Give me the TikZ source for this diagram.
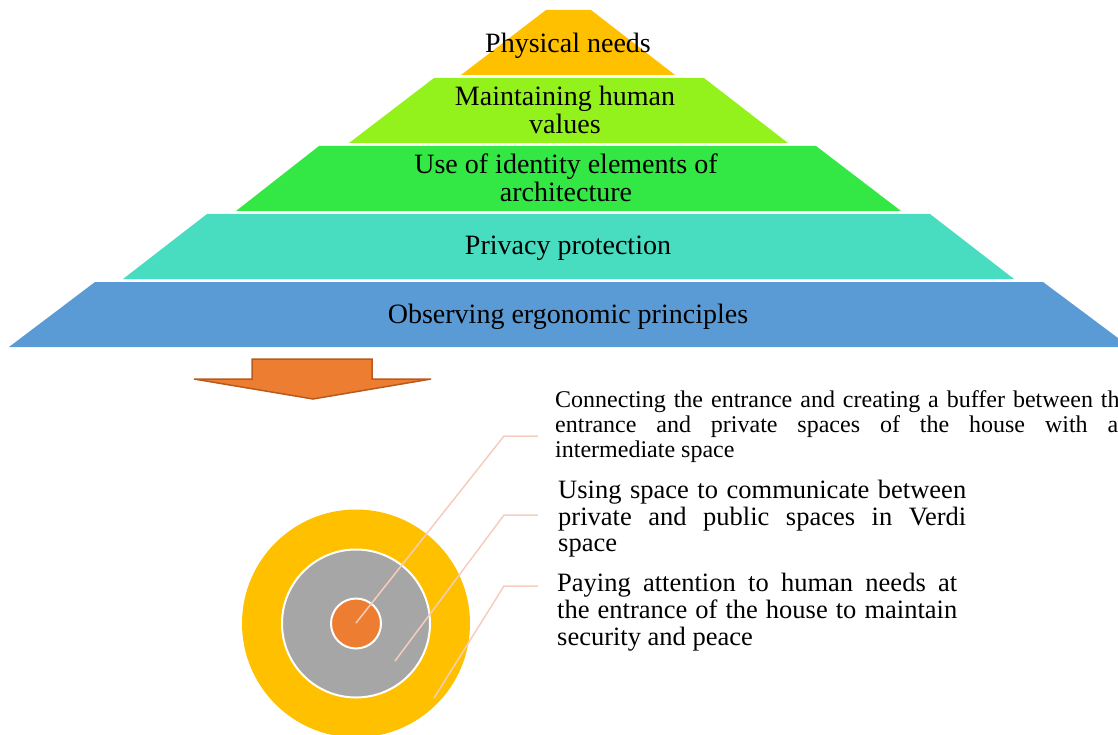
\documentclass[tikz,border=0pt]{standalone}
\usepackage{fontspec}
\setmainfont{Liberation Serif}
\definecolor{lvlone}{HTML}{FFC000}
\definecolor{lvltwo}{HTML}{94F21C}
\definecolor{lvlthree}{HTML}{33E845}
\definecolor{lvlfour}{HTML}{48DDC0}
\definecolor{lvlfive}{HTML}{5B9BD5}
\definecolor{arrorange}{HTML}{ED7D31}
\definecolor{arrbrown}{HTML}{B85A1E}
\definecolor{ringgrey}{HTML}{A6A6A6}
\definecolor{leadpink}{HTML}{F6CDBD}
\hyphenpenalty=10000
\tolerance=10000
\begin{document}
\begin{tikzpicture}[x=1pt, y=-1pt,
    lbl/.style={inner sep=0pt, anchor=north, align=center, font=\fontsize{28}{28}\selectfont},
    note/.style={inner sep=0pt, anchor=north west, align=justify},
    leader/.style={draw=leadpink, line width=1.5pt}]
    \useasboundingbox (0,0) rectangle (1118,735);
    % pyramid
    \fill[lvlone]   (546,10)--(591,10)--(675,75)--(461,75)--cycle;
    \fill[lvltwo]   (434,78)--(704,78)--(788,143)--(349,143)--cycle;
    \fill[lvlthree] (319,146)--(816,146)--(901,211)--(236,211)--cycle;
    \fill[lvlfour]  (207,214)--(930,214)--(1014,279)--(123,279)--cycle;
    \fill[lvlfive]  (95,282)--(1043,282)--(1130,347)--(9,347)--cycle;
    \node[lbl] (needs) at (568,32.5) {Physical needs};
    \node[lbl] (values) at (565,86) {Maintaining human\\values};
    \node[lbl] (identity) at (566,153.5) {Use of identity elements of\\architecture};
    \node[lbl] (privacy) at (568,236) {Privacy protection};
    \node[lbl] (ergo) at (568,303.5) {Observing ergonomic principles};
    % arrow
    \filldraw[fill=arrorange, draw=arrbrown, line width=1.5pt]
        (252,359)--(372,359)--(372,379)--(431,379)--(313,399)--(194,379)--(252,379)--cycle;
    % rings
    \coordinate (c) at (356,623.5);
    \fill[lvlone] (c) circle (114);
    \filldraw[fill=ringgrey, draw=white, line width=2pt] (c) circle (74);
    \filldraw[fill=arrorange, draw=white, line width=2pt] (c) circle (25);
    % texts
    \node[note, text width=575pt, font=\fontsize{24}{25}\selectfont] (buffer) at (555,390)
        {Connecting the entrance and creating a buffer between the\linebreak entrance and private spaces of the house with an\linebreak intermediate space};
    \node[note, text width=408pt, font=\fontsize{26.5}{26.7}\selectfont] (commun) at (558,480)
        {Using space to communicate between private and public spaces in Verdi space};
    \node[note, text width=400pt, font=\fontsize{26.5}{26.7}\selectfont] (human) at (557,573.4)
        {Paying attention to human needs at the entrance of the house to maintain security and peace};
    % leader lines
    \coordinate (a1) at (356,623);  \coordinate (k1) at (504,436); \coordinate (e1) at (538,436);
    \coordinate (a2) at (395,661);  \coordinate (k2) at (504,515); \coordinate (e2) at (538,515);
    \coordinate (a3) at (434,698);  \coordinate (k3) at (504,586); \coordinate (e3) at (538,586);
    \draw[leader] (a1)--(k1)--(e1);
    \draw[leader] (a2)--(k2)--(e2);
    \draw[leader] (a3)--(k3)--(e3);
\end{tikzpicture}
\end{document}
